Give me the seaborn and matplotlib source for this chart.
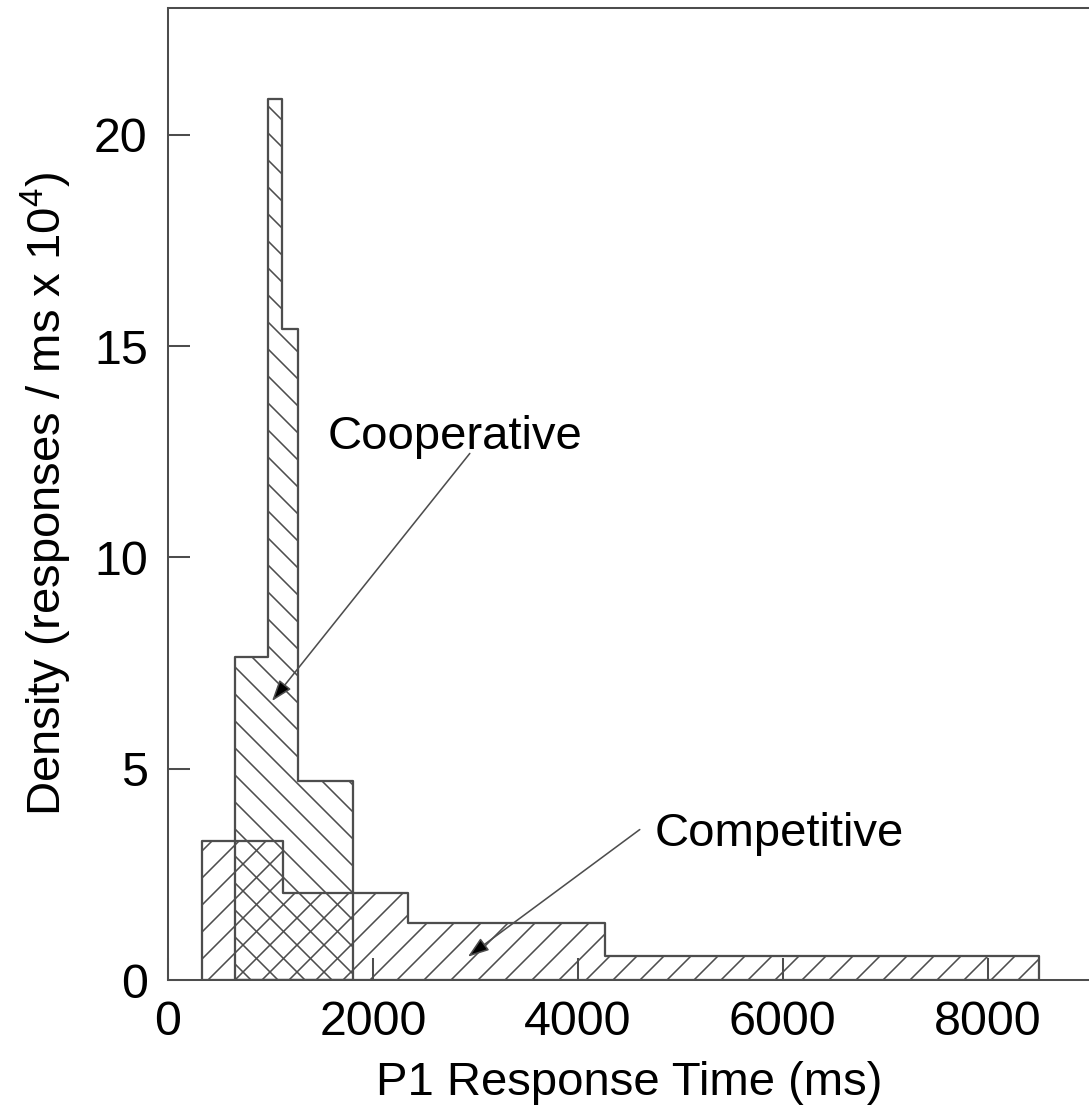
import numpy as np
import matplotlib
matplotlib.use("Agg")
import matplotlib.pyplot as plt
import seaborn as sns

# bin edges (ms) and densities (responses / ms x 10^4)
coop_edges = [654, 976, 1112, 1268, 1805]
coop_heights = [7.65, 20.85, 15.4, 4.7]

comp_edges = [332, 1122, 2341, 4263, 8507]
comp_heights = [3.3, 2.05, 1.35, 0.57]

x_ticks = [0, 2000, 4000, 6000, 8000]
y_ticks = [0, 5, 10, 15, 20]

sns.set_style("ticks")
plt.rcParams["font.family"] = ["Liberation Sans", "DejaVu Sans"]
plt.rcParams["mathtext.default"] = "regular"
plt.rcParams["hatch.linewidth"] = 0.7
plt.rcParams["hatch.color"] = "#4d4d4d"
plt.rcParams["text.color"] = "black"
plt.rcParams["axes.labelcolor"] = "black"
plt.rcParams["xtick.labelcolor"] = "black"
plt.rcParams["ytick.labelcolor"] = "black"

line_col = "#4d4d4d"
DPI = 162
fs = 21

fig = plt.figure(figsize=(1089 / DPI, 1113 / DPI), dpi=DPI)
ax = fig.add_axes([168 / 1089, 133 / 1113, 922 / 1089, 972 / 1113])

coop_centers = [(a + b) / 2 for a, b in zip(coop_edges[:-1], coop_edges[1:])]
comp_centers = [(a + b) / 2 for a, b in zip(comp_edges[:-1], comp_edges[1:])]

sns.histplot(x=comp_centers, weights=comp_heights, bins=comp_edges, stat="count",
             element="step", fill=True, color=line_col, facecolor="none",
             edgecolor=line_col, hatch="//", linewidth=1.0, ax=ax)
sns.histplot(x=coop_centers, weights=coop_heights, bins=coop_edges, stat="count",
             element="step", fill=True, color=line_col, facecolor="none",
             edgecolor=line_col, hatch="\\\\", linewidth=1.0, ax=ax)

ax.set_xlim(0, 9000)
ax.set_ylim(0, 23)
ax.set_xticks(x_ticks)
ax.set_yticks(y_ticks)
ax.tick_params(direction="in", length=9.8, width=0.9, color=line_col,
               labelsize=21.5, pad=9)

for side in ["top", "left", "bottom"]:
    ax.spines[side].set_color(line_col)
    ax.spines[side].set_linewidth(0.9)
ax.spines["right"].set_visible(False)

ax.set_xlabel("P1 Response Time (ms)", fontsize=fs, labelpad=7)
ax.set_ylabel("Density (responses / ms x 10$^4$)", fontsize=fs, labelpad=9)

# arrows pointing from the labels into each histogram
arrow = dict(arrowstyle="-|>,head_length=0.8,head_width=0.28",
             fc="black", ec=line_col, lw=0.7, shrinkA=0, shrinkB=0)
ax.annotate("", xy=(1015, 6.6), xytext=(2946, 12.46), arrowprops=arrow)
ax.annotate("", xy=(2927, 0.55), xytext=(4605, 3.56), arrowprops=arrow)
ax.text(1561, 12.57, "Cooperative", fontsize=fs, ha="left", va="baseline")
ax.text(4751, 3.16, "Competitive", fontsize=fs, ha="left", va="baseline")

fig.savefig("out.png", dpi=DPI)
